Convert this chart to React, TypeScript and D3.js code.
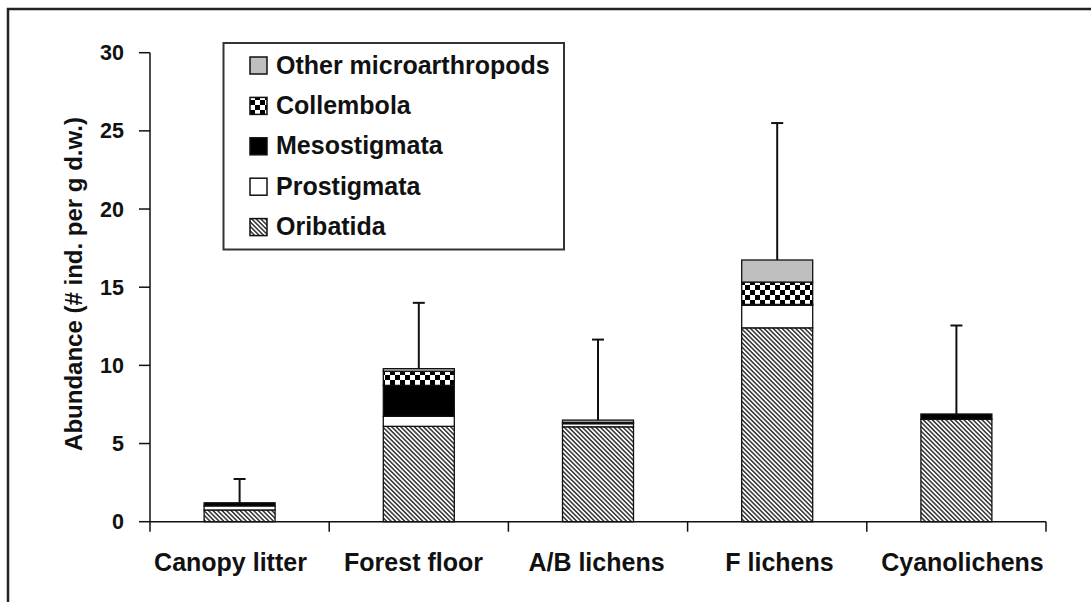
import React, { useRef, useEffect } from "react";
import * as d3 from "d3";

const categories = ["Canopy litter", "Forest floor", "A/B lichens", "F lichens", "Cyanolichens"];
const oribatida = [0.75, 6.1, 6.07, 12.4, 6.55];
const prostigmata = [0.26, 0.64, 0.2, 1.45, 0];
const mesostigmata = [0.2, 1.98, 0, 0.05, 0.34];
const collembola = [0, 0.9, 0.08, 1.43, 0];
const other = [0, 0.17, 0.15, 1.41, 0];
const errorTop = [2.73, 14.0, 11.65, 25.5, 12.55];
const yTicks = [0, 5, 10, 15, 20, 25, 30];

const seriesKeys = ["oribatida", "prostigmata", "mesostigmata", "collembola", "other"];
const legendItems = [
  { key: "other", label: "Other microarthropods" },
  { key: "collembola", label: "Collembola" },
  { key: "mesostigmata", label: "Mesostigmata" },
  { key: "prostigmata", label: "Prostigmata" },
  { key: "oribatida", label: "Oribatida" },
];

const fills: Record<string, string> = {
  oribatida: "url(#hatch)",
  prostigmata: "#ffffff",
  mesostigmata: "#000000",
  collembola: "url(#checker)",
  other: "#bfbfbf",
};

const FONT = "'Liberation Sans', Arial, Helvetica, sans-serif";

const App: React.FC = () => {
  const svgRef = useRef<SVGSVGElement>(null);
  const width = 1091;
  const height = 602;

  useEffect(() => {
    if (!svgRef.current) return;
    const svg = d3.select(svgRef.current);
    svg.selectAll("*").remove();

    const rows = categories.map((c, i) => ({
      category: c,
      oribatida: oribatida[i],
      prostigmata: prostigmata[i],
      mesostigmata: mesostigmata[i],
      collembola: collembola[i],
      other: other[i],
      err: errorTop[i],
    }));

    const x = d3.scaleBand().domain(categories).range([150, 1046]).padding(0);
    // category labels sit on a slightly wider spacing than the bars
    const xLabel = d3.scaleBand().domain(categories).range([139, 1054]).padding(0);
    const y = d3.scaleLinear().domain([0, 30]).range([521.7, 52.7]);
    const barW = 71;

    // patterns
    const defs = svg.append("defs");
    const hatch = defs
      .append("pattern")
      .attr("id", "hatch")
      .attr("patternUnits", "userSpaceOnUse")
      .attr("width", 3.2)
      .attr("height", 3.2)
      .attr("patternTransform", "rotate(-45)");
    hatch.append("rect").attr("width", 3.2).attr("height", 3.2).attr("fill", "#fff");
    hatch
      .append("line")
      .attr("x1", 0.8)
      .attr("x2", 0.8)
      .attr("y1", 0)
      .attr("y2", 3.2)
      .attr("stroke", "#222")
      .attr("stroke-width", 1.4);

    const checker = defs
      .append("pattern")
      .attr("id", "checker")
      .attr("patternUnits", "userSpaceOnUse")
      .attr("width", 10)
      .attr("height", 10);
    checker.append("rect").attr("width", 10).attr("height", 10).attr("fill", "#fff");
    checker.append("rect").attr("width", 5).attr("height", 5).attr("fill", "#000");
    checker.append("rect").attr("x", 5).attr("y", 5).attr("width", 5).attr("height", 5).attr("fill", "#000");

    // frame
    svg
      .append("path")
      .attr("d", `M8,${height} V9 H${width}`)
      .attr("fill", "none")
      .attr("stroke", "#222")
      .attr("stroke-width", 2.5);

    // stacked bars
    const stack = d3.stack<any>().keys(seriesKeys);
    const series = stack(rows);

    const layers = svg
      .append("g")
      .selectAll("g")
      .data(series)
      .join("g")
      .attr("fill", (d) => fills[d.key]);

    layers
      .selectAll("rect")
      .data((d) => d)
      .join("rect")
      .attr("x", (d: any) => x(d.data.category)! + x.bandwidth() / 2 - barW / 2)
      .attr("width", barW)
      .attr("y", (d) => y(d[1]))
      .attr("height", (d) => Math.max(0, y(d[0]) - y(d[1])))
      .attr("stroke", (d) => (d[1] - d[0] > 0 ? "#111" : "none"))
      .attr("stroke-width", 1.3);

    // error bars
    const eb = svg.append("g").attr("stroke", "#111").attr("stroke-width", 2);
    rows.forEach((r) => {
      const total = r.oribatida + r.prostigmata + r.mesostigmata + r.collembola + r.other;
      const cx = x(r.category)! + x.bandwidth() / 2;
      eb.append("line").attr("x1", cx).attr("x2", cx).attr("y1", y(total)).attr("y2", y(r.err));
      eb.append("line")
        .attr("x1", cx - 6)
        .attr("x2", cx + 6)
        .attr("y1", y(r.err))
        .attr("y2", y(r.err));
    });

    // y axis
    const yAxis = svg.append("g").attr("transform", "translate(150,0)");
    yAxis
      .append("line")
      .attr("y1", y(30))
      .attr("y2", y(0))
      .attr("stroke", "#111")
      .attr("stroke-width", 1.5);
    yTicks.forEach((t) => {
      yAxis
        .append("line")
        .attr("x1", -11)
        .attr("x2", 0)
        .attr("y1", y(t))
        .attr("y2", y(t))
        .attr("stroke", "#111")
        .attr("stroke-width", 1.5);
      yAxis
        .append("text")
        .attr("x", -26)
        .attr("y", y(t) + 7.5)
        .attr("text-anchor", "end")
        .attr("font-family", FONT)
        .attr("font-weight", "bold")
        .attr("font-size", 21.5)
        .attr("fill", "#111")
        .text(t);
    });

    // x axis
    const xAxis = svg.append("g");
    xAxis
      .append("line")
      .attr("x1", 150)
      .attr("x2", 1046)
      .attr("y1", y(0))
      .attr("y2", y(0))
      .attr("stroke", "#111")
      .attr("stroke-width", 1.5);
    const tickXs = [150, ...categories.map((c) => x(c)! + x.bandwidth())];
    tickXs.forEach((tx) => {
      xAxis
        .append("line")
        .attr("x1", tx)
        .attr("x2", tx)
        .attr("y1", y(0))
        .attr("y2", y(0) + 10)
        .attr("stroke", "#111")
        .attr("stroke-width", 1.5);
    });
    categories.forEach((c) => {
      xAxis
        .append("text")
        .attr("x", xLabel(c)! + xLabel.bandwidth() / 2)
        .attr("y", 571)
        .attr("text-anchor", "middle")
        .attr("font-family", FONT)
        .attr("font-weight", "bold")
        .attr("font-size", 25)
        .attr("fill", "#111")
        .text(c);
    });

    // y title
    svg
      .append("text")
      .attr("transform", "translate(82,284) rotate(-90)")
      .attr("text-anchor", "middle")
      .attr("font-family", FONT)
      .attr("font-weight", "bold")
      .attr("font-size", 24)
      .attr("fill", "#111")
      .text("Abundance (# ind. per g d.w.)");

    // legend
    const lg = svg.append("g");
    lg.append("rect")
      .attr("x", 223.5)
      .attr("y", 43)
      .attr("width", 340.5)
      .attr("height", 206.5)
      .attr("fill", "#fff")
      .attr("stroke", "#333")
      .attr("stroke-width", 2);
    legendItems.forEach((item, i) => {
      const cy = 65 + i * 40.4;
      lg.append("rect")
        .attr("x", 250)
        .attr("y", cy - 8)
        .attr("width", 17)
        .attr("height", 17)
        .attr("fill", fills[item.key])
        .attr("stroke", "#111")
        .attr("stroke-width", 1.5);
      lg.append("text")
        .attr("x", 276)
        .attr("y", cy + 8.5)
        .attr("font-family", FONT)
        .attr("font-weight", "bold")
        .attr("font-size", 25)
        .attr("fill", "#111")
        .text(item.label);
    });
  }, []);

  return (
    <svg
      ref={svgRef}
      width={width}
      height={height}
      style={{ position: "absolute", left: 0, top: 0, background: "#fff", display: "block" }}
    ></svg>
  );
};

export default App;
